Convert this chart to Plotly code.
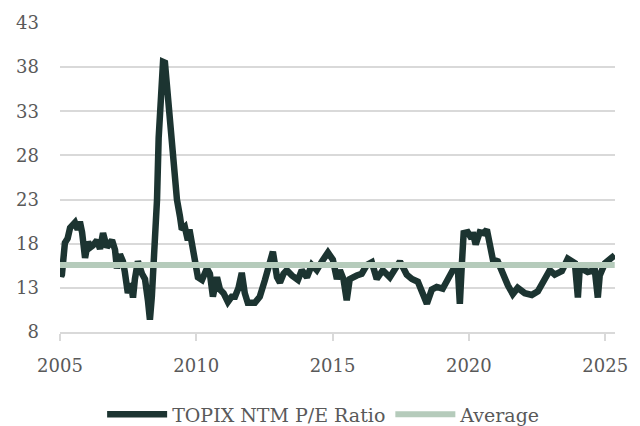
import pandas as pd
import plotly.graph_objects as go

# Decimal years
years = [
    2005.00, 2005.04, 2005.07, 2005.18, 2005.28, 2005.37, 2005.55, 2005.65, 2005.73, 2005.81,
    2005.92, 2006.03, 2006.12, 2006.21, 2006.36, 2006.47, 2006.58, 2006.72, 2006.91, 2007.02,
    2007.09, 2007.20, 2007.31, 2007.38, 2007.49, 2007.60, 2007.68, 2007.75, 2007.86, 2008.01,
    2008.12, 2008.23, 2008.30, 2008.37, 2008.48, 2008.56, 2008.62, 2008.70, 2008.78, 2008.85,
    2008.92, 2008.97, 2009.03, 2009.11, 2009.22, 2009.29, 2009.40, 2009.47, 2009.58, 2009.69,
    2009.75, 2009.84, 2009.95, 2010.06, 2010.21, 2010.39, 2010.50, 2010.61, 2010.76, 2010.87,
    2011.00, 2011.16, 2011.30, 2011.42, 2011.55, 2011.67, 2011.78, 2011.89, 2012.15, 2012.33,
    2012.52, 2012.70, 2012.81, 2012.96, 2013.07, 2013.20, 2013.32, 2013.51, 2013.73, 2013.87,
    2014.06, 2014.24, 2014.42, 2014.61, 2014.83, 2015.01, 2015.16, 2015.27, 2015.40, 2015.52,
    2015.63, 2015.89, 2016.07, 2016.26, 2016.44, 2016.62, 2016.84, 2017.10, 2017.30, 2017.47,
    2017.72, 2017.91, 2018.13, 2018.27, 2018.46, 2018.64, 2018.82, 2019.04, 2019.23, 2019.41,
    2019.59, 2019.67, 2019.74, 2019.81, 2019.96, 2020.10, 2020.14, 2020.25, 2020.40, 2020.55,
    2020.66, 2020.77, 2020.88, 2021.06, 2021.21, 2021.43, 2021.61, 2021.79, 2022.05, 2022.31,
    2022.53, 2022.79, 2022.97, 2023.15, 2023.41, 2023.63, 2023.89, 2024.00, 2024.07, 2024.36,
    2024.62, 2024.73, 2024.80, 2024.99, 2025.24, 2025.35,
]

pe_ratio = [
    16.0, 14.3, 14.5, 18.1, 18.6, 19.8, 20.4, 19.6, 20.5, 19.3,
    16.4, 18.2, 17.6, 17.8, 18.4, 17.4, 19.2, 17.6, 18.4, 17.3,
    15.2, 16.8, 16.0, 14.8, 12.4, 13.5, 11.9, 14.0, 16.0, 14.6,
    14.0, 11.5, 9.4, 12.0, 17.5, 23.0, 30.0, 36.5, 38.6, 38.5,
    36.0, 33.0, 30.6, 29.0, 24.9, 23.0, 21.1, 19.6, 19.9, 18.4,
    19.6, 18.1, 15.8, 14.2, 13.9, 15.2, 14.6, 12.0, 14.2, 12.8,
    12.4, 11.4, 12.0, 12.0, 13.0, 14.7, 12.4, 11.3, 11.3, 12.0,
    13.9, 16.0, 17.1, 14.2, 13.6, 14.6, 15.0, 14.4, 13.9, 15.0,
    14.2, 15.6, 15.0, 16.0, 17.0, 16.2, 14.0, 15.0, 14.0, 11.6,
    14.0, 14.4, 14.6, 15.6, 15.9, 14.0, 15.0, 14.2, 15.3, 16.0,
    14.5, 14.0, 13.7, 12.5, 11.2, 12.8, 13.1, 12.9, 13.9, 15.0,
    15.5, 11.2, 15.5, 19.2, 19.3, 18.6, 19.3, 17.9, 19.3, 19.2,
    19.6, 18.1, 16.2, 16.0, 14.8, 13.3, 12.3, 13.0, 12.4, 12.2,
    12.6, 13.9, 15.0, 14.5, 14.9, 16.3, 15.8, 11.9, 15.3, 14.8,
    15.0, 11.9, 14.4, 15.8, 16.3, 16.7,
]

average_value = 15.6
y_ticks = [8, 13, 18, 23, 28, 33, 38, 43]
x_tick_years = [2005, 2010, 2015, 2020, 2025]


def to_date(y):
    yr = int(y)
    start = pd.Timestamp(year=yr, month=1, day=1)
    end = pd.Timestamp(year=yr + 1, month=1, day=1)
    return start + (end - start) * (y - yr)


dates = [to_date(y) for y in years]
avg_dates = [dates[0], dates[-1]]

DARK = "#1c3431"
LIGHT = "#b5cbbb"
FONT = "DejaVu Serif"
GREY = "#595959"

fig = go.Figure()
fig.add_trace(go.Scatter(
    x=dates, y=pe_ratio, mode="lines", name="TOPIX NTM P/E Ratio",
    line=dict(color=DARK, width=6.5, shape="linear"),
))
fig.add_trace(go.Scatter(
    x=avg_dates, y=[average_value, average_value], mode="lines", name="Average",
    line=dict(color=LIGHT, width=6),
))

fig.update_layout(
    width=640, height=426,
    margin=dict(l=60, r=25, t=23, b=94, autoexpand=False),
    plot_bgcolor="white", paper_bgcolor="white",
    font=dict(family=FONT, size=18, color=GREY),
    showlegend=True,
    legend=dict(
        orientation="h", x=0.475, xanchor="center", y=-0.205, yanchor="top",
        font=dict(family=FONT, size=19, color=GREY),
        itemwidth=60, tracegroupgap=0,
    ),
)
fig.update_xaxes(
    range=[pd.Timestamp("2005-01-01"), to_date(2025.36)],
    tickvals=[pd.Timestamp(year=y, month=1, day=1) for y in x_tick_years],
    ticktext=[str(y) for y in x_tick_years],
    showgrid=False, showline=True, linecolor="#d9d9d9", linewidth=1.5,
    ticks="outside", ticklen=7, tickcolor="#d9d9d9", tickwidth=1.5,
    tickfont=dict(family=FONT, size=18, color=GREY),
    ticklabelstandoff=10, automargin=False,
)
fig.update_yaxes(
    range=[8, 43], tickvals=y_ticks,
    showgrid=True, gridcolor="#d9d9d9", gridwidth=1.5,
    zeroline=False, showline=False,
    tickfont=dict(family=FONT, size=18, color=GREY),
    ticklabelstandoff=20, automargin=False,
)

fig.write_html(
    "out.html",
    config={"displayModeBar": False},
    post_script="document.body.style.margin='0';document.body.style.overflow='hidden';",
)
